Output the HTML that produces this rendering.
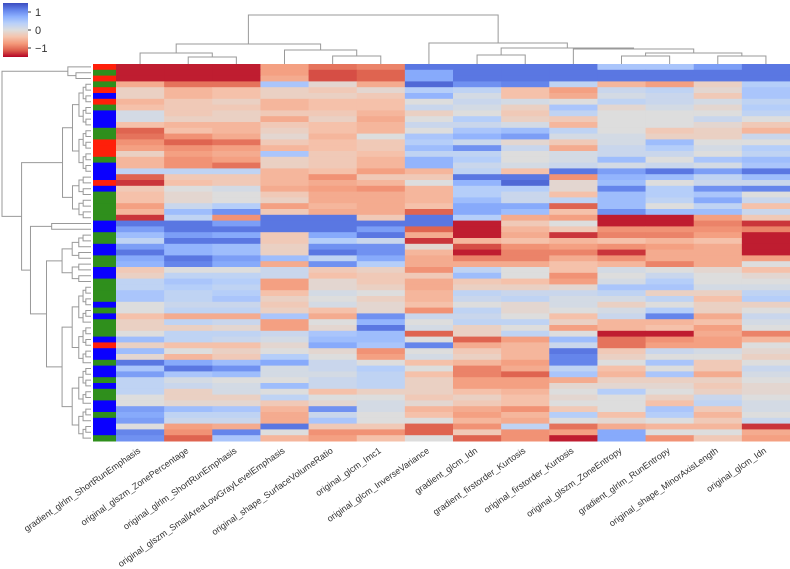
<!DOCTYPE html>
<html><head><meta charset="utf-8"><style>
html,body{margin:0;padding:0;background:#fff;}
svg{display:block;font-family:"Liberation Sans",sans-serif;}
</style></head><body>
<svg id="chart" width="790" height="569" viewBox="0 0 790 569" xmlns="http://www.w3.org/2000/svg">
<defs><linearGradient id="cbg" x1="0" y1="1" x2="0" y2="0">
<stop offset="0" stop-color="rgb(180,4,38)"/><stop offset="0.125" stop-color="rgb(222,96,77)"/><stop offset="0.25" stop-color="rgb(244,154,123)"/><stop offset="0.375" stop-color="rgb(245,196,173)"/><stop offset="0.5" stop-color="rgb(221,221,221)"/><stop offset="0.625" stop-color="rgb(184,208,249)"/><stop offset="0.75" stop-color="rgb(141,176,254)"/><stop offset="0.875" stop-color="rgb(98,130,234)"/><stop offset="1" stop-color="rgb(59,76,192)"/></linearGradient></defs>
<g>
<rect x="3" y="3" width="25" height="54" fill="url(#cbg)"/>
<line x1="28" y1="12" x2="31" y2="12" stroke="#333"/>
<line x1="28" y1="30" x2="31" y2="30" stroke="#333"/>
<line x1="28" y1="48" x2="31" y2="48" stroke="#333"/>
<text x="35" y="16" font-size="11" fill="#333">1</text>
<text x="35" y="34" font-size="11" fill="#333">0</text>
<text x="35" y="52" font-size="11" fill="#333">−1</text>
</g>
<g id="heat"></g>
<g id="rowcols"></g>
<g id="rowdend"></g>
<g id="coldend"></g>
<g id="labels"></g>
</svg>
<script>
const columns=["gradient_glrlm_ShortRunEmphasis","original_glszm_ZonePercentage","original_glrlm_ShortRunEmphasis","original_glszm_SmallAreaLowGrayLevelEmphasis","original_shape_SurfaceVolumeRatio","original_glcm_Imc1","original_glcm_InverseVariance","gradient_glcm_Idn","gradient_firstorder_Kurtosis","original_firstorder_Kurtosis","original_glszm_ZoneEntropy","gradient_glrlm_RunEntropy","original_shape_MinorAxisLength","original_glcm_Idn"];
const rowGroups="RGRGRBRGBBBGGRRRGBBBRBGGGGGBBGGBBGGBBGGGGBGBGGGBRBBGBBGBGGBBGBBBG".split("");
const values=[
[-1.4,-1.4,-1.4,-0.7,-1.0,-0.9,1.2,1.2,1.2,1.2,0.5,0.5,0.9,1.2],
[-1.4,-1.4,-1.4,-0.7,-1.2,-1.1,0.8,1.2,1.2,1.2,1.2,1.2,1.2,1.2],
[-1.4,-1.4,-1.4,-0.6,-1.2,-1.1,0.8,1.2,1.2,1.2,1.2,1.2,1.2,1.2],
[-0.6,-1.0,-1.0,0.5,-0.1,-0.6,1.3,1.0,1.1,0.3,-0.5,-0.7,-0.2,0.4],
[-0.2,-0.5,-0.4,-0.2,-0.3,-0.1,0.4,0.3,-0.4,-0.7,0.2,0.3,-0.1,0.5],
[-0.2,-0.5,-0.4,-0.2,-0.2,-0.3,0.7,0.1,-0.4,-0.6,0.1,0.2,-0.3,0.5],
[-0.5,-0.3,-0.2,-0.5,-0.4,-0.4,0.0,0.2,0.1,0.0,0.3,0.2,0.1,0.3],
[-0.4,-0.3,-0.3,-0.5,-0.4,-0.4,0.2,0.1,-0.2,0.5,-0.1,0.1,-0.1,0.4],
[0.1,-0.3,-0.2,-0.3,-0.3,-0.5,-0.2,0.0,-0.3,0.3,0,0,0,0.3],
[0.1,-0.2,-0.2,-0.6,-0.2,-0.6,0.0,0.4,-0.2,-0.3,0,0,0.2,0.0],
[-0.4,-0.5,-0.5,-0.3,-0.4,-0.5,0.2,0.2,0.1,-0.5,0,0,-0.1,-0.3],
[-1.1,-0.4,-0.5,-0.2,-0.4,-0.5,0.0,0.5,0.6,0.3,0,-0.3,-0.2,-0.5],
[-1.0,-0.8,-0.6,-0.1,-0.5,0.0,0.5,0.7,0.9,0.1,0.1,-0.2,-0.2,0.2],
[-0.8,-1.1,-1.0,-0.3,-0.4,-0.3,0.4,0.2,-0.1,-0.3,0.1,0.6,0.0,0.0],
[-0.7,-0.8,-0.7,-0.5,-0.4,-0.3,0.6,1.0,0.2,-0.6,0.2,0.4,0.1,0.4],
[-0.2,-0.7,-0.6,0.5,-0.3,-0.4,0.3,0.3,0.0,0.1,0.2,0.2,0.0,0.3],
[-0.5,-0.8,-0.7,-0.2,-0.3,-0.5,0.7,0.4,0.0,0.1,0.6,0.0,0.5,0.6],
[-0.5,-0.8,-1.0,-0.2,-0.3,-0.5,0.7,0.2,0.1,0.2,0.1,0.2,0.1,0.5],
[0.3,0.3,0.3,-0.5,-0.4,-0.7,-0.5,0.3,-0.4,1.2,0.9,1.2,0.9,1.2],
[-1.1,-0.3,-0.3,-0.5,-0.8,-0.3,-0.3,1.2,1.2,-0.8,0.7,0.6,0.3,0.6],
[-1.3,-0.4,-0.3,-0.5,-0.6,-0.5,0.0,0.7,1.3,-0.1,0.6,0.0,0.2,0.2],
[-0.3,0.0,0.1,-0.6,-0.7,-0.8,-0.5,0.4,0.4,-0.1,1.1,0.4,1.0,1.1],
[-0.4,-0.1,0.0,-0.3,-0.6,-0.6,-0.5,0.4,0.2,-0.4,0.6,0.4,0.5,0.0],
[-0.4,-0.1,0.0,-0.2,-0.6,-0.6,-0.5,0.6,0.2,0.3,0.6,0.3,0.8,0.2],
[-0.7,0.2,0.4,-0.7,-0.5,-0.6,-0.4,0.8,0.8,-1.1,0.6,0.0,0.3,-0.4],
[-0.5,0.6,1.0,-0.3,-0.6,-0.6,-1.1,0.8,0.6,-0.4,1.0,0.6,0.6,0.2],
[-1.3,0.3,-0.8,1.2,1.2,-0.3,1.2,0.4,-0.6,-0.7,-1.4,-1.4,-0.7,-0.3],
[1.2,1.2,0.9,1.2,1.2,1.2,1.2,-1.4,-0.3,0.0,-1.4,-1.4,-0.9,-1.3],
[0.9,1.2,1.2,1.2,1.2,0.9,-1.1,-1.4,-0.5,-0.3,-0.8,-0.8,-0.8,-0.9],
[0.6,0.9,0.8,-0.3,0.8,1.2,-0.6,-1.4,-0.6,-1.3,-0.9,-0.9,-0.7,-1.4],
[0.3,1.2,1.2,-0.3,0.4,0.2,-1.3,-0.5,-0.4,-0.5,-0.4,-0.5,-0.4,-1.4],
[0.9,0.7,0.6,-0.2,1.0,1.0,-0.1,-1.2,-0.8,-0.7,-0.8,-0.7,-0.6,-1.4],
[1.2,0.7,0.6,-0.2,1.2,1.0,-0.5,-1.4,-0.9,-0.9,-1.3,-0.6,-0.6,-1.4],
[0.8,1.2,0.9,0.6,0.3,0.8,-0.6,-0.9,-0.9,-0.6,-0.8,-0.6,-0.6,-0.7],
[0.7,1.1,0.8,-0.6,1.0,0.4,-0.6,-0.6,-0.6,-0.4,-0.5,-0.9,-0.6,0.0],
[-0.3,0.0,0.0,0.2,-0.3,-0.2,-0.8,0.3,0.0,-0.4,0.1,0.0,-0.1,-0.4],
[-0.2,0.3,0.3,0.2,-0.4,-0.3,-0.3,0.6,0.0,-0.8,0.0,0.2,0.0,-0.1],
[0.3,0.5,0.4,-0.7,-0.1,-0.3,-0.6,-0.3,-0.4,-0.7,0.1,0.4,0.0,0.0],
[0.3,0.4,0.3,-0.7,-0.1,-0.2,-0.6,-0.2,-0.2,-0.1,0.5,0.5,0.1,0.1],
[0.5,0.3,0.4,-0.4,0.1,0.0,-0.5,0.3,0.2,0.2,0.3,-0.2,-0.2,0.3],
[0.5,0.3,0.5,-0.2,0.0,-0.2,-0.5,0.2,0.3,0.1,0.1,0.3,-0.4,0.4],
[0.0,0.2,0.2,-0.3,0.1,-0.1,-0.4,0.0,-0.1,0.1,-0.2,0.0,-0.2,-0.2],
[0.0,0.3,0.3,-0.2,-0.4,-0.1,-0.8,0.3,-0.1,0.0,0.1,0.4,-0.2,0.0],
[-0.4,-0.6,-0.6,0.5,-0.6,1.0,0.2,0.2,0.0,-0.4,0.2,1.1,-0.6,0.2],
[-0.2,0.3,0.2,-0.7,0.0,0.7,0.0,0.3,0.3,-0.2,-0.5,-0.5,-0.4,0.1],
[-0.2,-0.2,-0.1,-0.7,-0.1,1.2,0.1,-0.2,0.0,-0.7,-0.5,-0.4,-0.7,0.0],
[0.0,0.3,0.3,0.2,0.5,0.6,-1.1,-0.2,0.3,0.0,-1.4,-1.4,-0.6,-0.9],
[0.6,0.3,0.2,0.1,0.6,0.6,0.0,-1.1,-0.7,0.6,-1.0,-0.8,-0.7,-0.5],
[-0.2,-0.4,-0.4,-0.1,0.8,0.5,1.1,-0.6,-0.5,0.2,-1.0,-0.7,-0.7,0.0],
[0.6,0.0,-0.2,0.0,-0.1,-0.8,0.0,-0.3,-0.5,1.2,-0.3,0.2,0.1,-0.1],
[-0.1,-0.5,-0.3,0.4,0.0,-0.7,0.1,-0.2,-0.5,1.1,-0.2,0.0,0.0,-0.2],
[1.2,0.8,0.6,0.8,0.2,0.0,-0.4,-0.5,-0.7,1.1,0.0,0.5,-0.3,0.0],
[0.5,1.2,1.0,0.1,0.2,0.4,0.0,-0.9,-0.6,0.3,-0.4,0.0,-0.3,0.2],
[0.9,0.5,0.6,0.1,0.1,0.3,-0.4,-0.9,-1.1,0.5,-0.5,0.5,-0.6,0.1],
[0.3,0.1,0.0,0.0,0.2,0.3,-0.2,-0.7,-0.7,-0.6,-0.2,-0.2,-0.2,0.0],
[0.3,0.2,0.1,0.6,0.2,0.3,-0.2,-0.7,-0.7,-0.1,-0.1,-0.1,-0.3,-0.1],
[0.3,-0.2,0.1,0.0,-0.4,-0.2,-0.2,-0.4,-0.5,0.0,0.4,0.0,-0.2,-0.1],
[0.0,-0.2,-0.2,0.3,0.0,0.0,-0.3,-0.2,-0.4,-0.1,0.0,-0.2,0.2,0.0],
[0.0,-0.1,-0.1,-0.3,-0.1,0.1,-0.1,-0.3,-0.4,0.0,0.0,-0.4,0.3,0.1],
[0.9,0.6,0.5,-0.5,1.0,0.1,-0.5,-0.6,-0.8,-0.3,0.0,0.5,-0.3,0.1],
[0.8,0.3,0.3,-0.6,0.2,0.0,-0.4,-0.7,-0.5,0.4,-0.4,0.4,-0.5,0.0],
[0.9,0.2,0.2,-0.6,0.5,0.0,0.0,-0.5,-0.6,0.0,-0.1,0.0,-0.3,0.2],
[0.0,-0.7,-0.6,1.2,-0.3,-0.3,-1.1,-0.8,0.3,-1.0,-0.6,-0.5,-0.5,-1.3],
[1.1,-0.8,1.1,0.0,-0.8,-0.8,-1.1,-0.3,-0.8,-0.7,0.8,0.0,0.0,-0.6],
[1.0,-1.1,0.5,-0.5,-0.7,-0.4,0.0,-1.1,-0.8,-1.4,0.8,-0.8,-0.3,-0.7]
];
// column dendrogram: [left,right,height]; leaves are column indices
const colTree=[[[0,[1,2,0.51],0.92],[3,[4,5,0.61],1.22],1.84],[6,[[7,8,0.71],[9,[[10,11,0.61],[12,13,0.61],0.92],1.33],1.43],1.94],4.8];
// row dendrogram major splits: [lo, mid, mid+1, hi, link distance]
const rowSplits=[[0,2,3,64,5.0],[0,0,1,2,1.3],[3,26,27,64,3.9],[3,18,19,26,1.6],[27,28,29,64,3.4],[29,37,38,64,2.5]];

const NS="http://www.w3.org/2000/svg";
const X0=116,X1=790,Y0=64,Y1=441,VMAX=1.5;
const cw=(X1-X0)/columns.length, rh=(Y1-Y0)/values.length;
const xCol=i=>X0+i*cw, yRow=j=>Y0+j*rh;
const stops=[[59,76,192],[98,130,234],[141,176,254],[184,208,249],[221,221,221],[245,196,173],[244,154,123],[222,96,77],[180,4,38]];
function cmap(v){let t=(VMAX-v)/(2*VMAX);t=Math.max(0,Math.min(1,t));const p=t*8,i=Math.min(7,Math.floor(p)),f=p-i;const a=stops[i],b=stops[i+1];return `rgb(${a.map((c,k)=>Math.round(c+(b[k]-c)*f)).join(",")})`;}
function mk(tag,attrs,parent){const e=document.createElementNS(NS,tag);for(const k in attrs)e.setAttribute(k,attrs[k]);parent.appendChild(e);return e;}
const heat=document.getElementById("heat");
values.forEach((row,j)=>row.forEach((v,i)=>{
 const r=mk("rect",{x:xCol(i),y:yRow(j),width:cw+0.5,height:rh+0.5,fill:cmap(v)},heat);
 
 
}));
const gc={R:"#ff1f0a",G:"#2f8f1c",B:"#0a00ff"};
const rc=document.getElementById("rowcols");
rowGroups.forEach((g,j)=>{const r=mk("rect",{x:93,y:yRow(j),width:23,height:rh+0.5,fill:gc[g]},rc);
 
 });
const lg=document.getElementById("labels");
columns.forEach((c,i)=>{const cx=xCol(i)+cw/2;const t=mk("text",{x:0,y:0,"font-size":"9","fill":"#333","text-anchor":"end",transform:`translate(${cx+1},${Y1+11}) rotate(-35)`},lg);t.textContent=c;
 
 });
const cd=document.getElementById("coldend");
const CD_BOT=62,CSCALE=9.8;
const cy=h=>CD_BOT-h*CSCALE;
function drawCol(n){if(typeof n==="number")return [xCol(n)+cw/2,CD_BOT+2];
 const a=drawCol(n[0]),b=drawCol(n[1]),y=cy(n[2]);
 const p=mk("path",{d:`M${a[0]},${a[1]}V${y}H${b[0]}V${b[1]}`,fill:"none",stroke:"#999","stroke-width":1},cd);
 
 
 return [(a[0]+b[0])/2,y];}
drawCol(colTree);
const rd=document.getElementById("rowdend");
const RD_L=2,RD_R=91,RMAX=5.0;
const rx=h=>RD_R-(h/RMAX)*(RD_R-RD_L);
function link(a,b,x){const p=mk("path",{d:`M${a[0]},${a[1]}H${x}V${b[1]}H${b[0]}`,fill:"none",stroke:"#999","stroke-width":1},rd);
 
 }
function sub(lo,hi,h){if(lo===hi)return [RD_R,yRow(lo)+rh/2];
 const sp=rowSplits.find(s=>s[0]===lo&&s[3]===hi);let m,hh;
 if(sp){m=sp[1];hh=sp[4];}else{m=Math.floor((lo+hi)/2);hh=h*0.65;}
 const a=sub(lo,m,hh),b=sub(m+1,hi,hh);const x=rx(hh);link(a,b,x);return [x,(a[1]+b[1])/2];}
sub(0,values.length-1,RMAX);
</script>
</body></html>
